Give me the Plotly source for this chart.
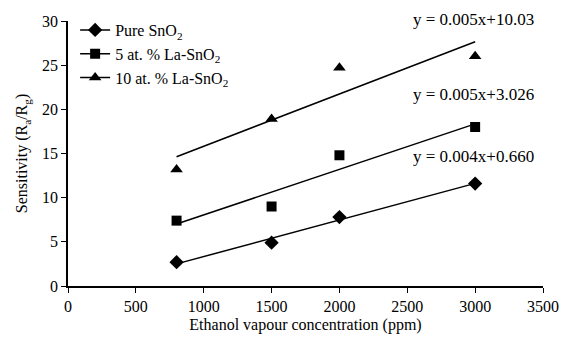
import numpy as np
import plotly.graph_objects as go

conc = [800, 1500, 2000, 3000]
pure = [2.7, 4.9, 7.8, 11.6]
la5 = [7.4, 9.0, 14.8, 18.0]
la10 = [13.2, 18.9, 24.7, 26.0]
names = ["Pure SnO<sub>2</sub>", "5 at. % La-SnO<sub>2</sub>", "10 at. % La-SnO<sub>2</sub>"]
symbols = ["diamond", "square", "triangle-up"]
sizes = [11, 10, 11]
equations = ["y = 0.004x+0.660", "y = 0.005x+3.026", "y = 0.005x+10.03"]
eq_pos = [0.489, 0.722, 1.004]

FONT = "Liberation Serif"
fig = go.Figure()
for name, ys, sym, sz in zip(names, [pure, la5, la10], symbols, sizes):
    fig.add_trace(go.Scatter(x=[None], y=[None], mode="lines+markers", name=name,
                             line=dict(color="black", width=1.5),
                             marker=dict(symbol=sym, size=sz, color="black")))
    fig.add_trace(go.Scatter(x=conc, y=ys, mode="markers", showlegend=False,
                             marker=dict(symbol=sym, size=sz, color="black")))
    k, b = np.polyfit(conc, ys, 1)
    xl = [conc[0], conc[-1]]
    fig.add_trace(go.Scatter(x=xl, y=[k * v + b for v in xl], mode="lines", showlegend=False,
                             line=dict(color="black", width=1.5)))

for eq, yy in zip(equations, eq_pos):
    fig.add_annotation(xref="paper", yref="paper", x=0.854, y=yy, text=eq, showarrow=False,
                       xanchor="center", yanchor="middle",
                       font=dict(family=FONT, size=17, color="black"))

fig.update_layout(
    width=571, height=343, margin=dict(l=68, r=23, t=21, b=56),
    paper_bgcolor="white", plot_bgcolor="white",
    font=dict(family=FONT, size=16, color="black"),
    legend=dict(x=0.015, y=1.03, xanchor="left", yanchor="top",
                bgcolor="rgba(0,0,0,0)",
                font=dict(family=FONT, size=16), tracegroupgap=0, itemsizing="trace"),
    xaxis=dict(range=[0, 3500], tickvals=list(range(0, 3501, 500)), showgrid=False, zeroline=False,
               showline=True, linecolor="black", linewidth=1.5, ticks="outside", ticklen=5,
               tickcolor="black", tickfont=dict(size=16),
               title=dict(text="Ethanol vapour concentration (ppm)", font=dict(size=16), standoff=5)),
    yaxis=dict(range=[0, 30], tickvals=list(range(0, 31, 5)), showgrid=False, zeroline=False,
               showline=True, linecolor="black", linewidth=1.5, ticks="outside", ticklen=5,
               tickcolor="black", tickfont=dict(size=16),
               title=dict(text="Sensitivity (R<sub>a</sub>/R<sub>g</sub>)", font=dict(size=16), standoff=10)),
)
fig.write_html("out.html")
